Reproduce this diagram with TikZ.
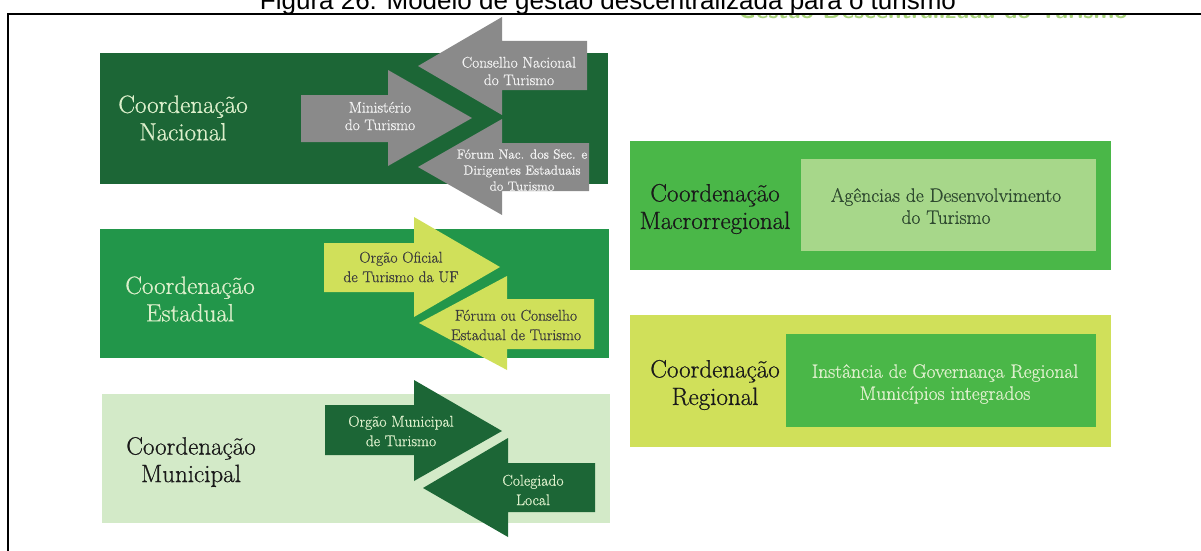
\documentclass[tikz,border=0pt]{standalone}
\usepackage{fontspec}
\newfontfamily\titlefont{Liberation Sans}
\newfontfamily\lmheavy{Latin Modern Roman}[FakeBold=0.7]
\begin{document}
\begin{tikzpicture}[x=1pt,y=-1pt,
  big/.style={align=center,inner sep=0pt,font=\lmheavy\fontsize{25}{27.5}\selectfont},
  small/.style={align=center,inner sep=0pt,font=\lmheavy\fontsize{15.4}{17.5}\selectfont},
  mid/.style={align=center,inner sep=0pt,font=\lmheavy\fontsize{15.6}{19.5}\selectfont},
  boxtext/.style={align=center,inner sep=0pt,font=\lmheavy\fontsize{19.5}{22}\selectfont}]
\definecolor{darkg}{HTML}{1C6636}
\definecolor{estg}{HTML}{22964A}
\definecolor{munibg}{HTML}{D3EAC8}
\definecolor{grayar}{HTML}{8A8A8A}
\definecolor{yellowg}{HTML}{D0E05A}
\definecolor{brightg}{HTML}{4AB748}
\definecolor{lightg}{HTML}{A7D78A}
\definecolor{paletxt}{HTML}{DCEFCB}
\definecolor{darktxt}{HTML}{1A1A1A}
\definecolor{innertxt}{HTML}{2F4A30}
\definecolor{fadeg}{HTML}{A9D37C}
\useasboundingbox (0,0) rectangle (1201,551);
% faded cut-off heading: only its lowest strip shows
\node[anchor=base,inner sep=0pt,text=fadeg,font=\sffamily\bfseries\fontsize{24}{28}\selectfont] (fadehead) at (933,19) {Gestão Descentralizada do Turismo};
\fill[white] (700,-5) rectangle (1201,15.3);
\fill[white] (700,19.6) rectangle (1201,30);
% title (cut off at the top)
\node[anchor=base,inner sep=0pt,font=\titlefont\fontsize{26}{30}\selectfont] (title) at (608,10) {Figura 26: Modelo de gestão descentralizada para o turismo};
% frame
\draw[line width=2pt] (8,551) -- (8,14) -- (1201,14);
% ---------- Nacional ----------
\fill[darkg] (100,53) rectangle (608,184);
\fill[grayar] (301,95) -- (388,95) -- (388,70) -- (472,118) -- (388,166) -- (388,142) -- (301,142) -- cycle;
\fill[grayar] (418,66) -- (502,17) -- (502,41) -- (587,41) -- (587,90) -- (502,90) -- (502,115) -- cycle;
\fill[grayar] (418,167) -- (502,119) -- (502,143) -- (589,143) -- (589,191) -- (502,191) -- (502,215) -- cycle;
\node[big,text=paletxt] (nac) at (183,118) {Coordenação\\Nacional};
\node[small,text=white!95!black] (min) at (380,116) {Ministério\\do Turismo};
\node[small,text=white!95!black] (cnt) at (519,71) {Conselho Nacional\\do Turismo};
\node[small,text=white!95!black,font=\lmheavy\fontsize{13.3}{16}\selectfont] (forum) at (522,170) {Fórum Nac. dos Sec. e\\Dirigentes Estaduais\\do Turismo};
% ---------- Estadual ----------
\fill[estg] (100,229) rectangle (609,358);
\fill[yellowg] (324,243) -- (414,243) -- (414,217) -- (500,267) -- (414,317) -- (414,292) -- (324,292) -- cycle;
\fill[yellowg] (419,323) -- (507,276) -- (507,299) -- (594,299) -- (594,349) -- (507,349) -- (507,370) -- cycle;
\node[big,text=paletxt] (est) at (190,299) {Coordenação\\Estadual};
\node[mid,text=darktxt!85] (oouf) at (401,267) {Orgão Oficial\\de Turismo da UF};
\node[mid,text=darktxt!85] (fcet) at (516,325) {Fórum ou Conselho\\Estadual de Turismo};
% ---------- Municipal ----------
\fill[munibg] (102,394) rectangle (610,523);
\fill[darkg] (325,405) -- (414,405) -- (414,380) -- (502,431) -- (414,481) -- (414,455) -- (325,455) -- cycle;
\fill[darkg] (423,488) -- (508,438) -- (508,463) -- (595,463) -- (595,512) -- (508,512) -- (508,537) -- cycle;
\node[big,text=darktxt] (mun) at (191,462) {Coordenação\\Municipal};
\node[mid,text=paletxt] (omt) at (401,431) {Orgão Municipal\\de Turismo};
\node[mid,text=paletxt] (col) at (533,490) {Colegiado\\Local};
% ---------- Macrorregional ----------
\fill[brightg] (630,141) rectangle (1111,270);
\fill[lightg] (801,159) rectangle (1096,251);
\node[big,text=darktxt] (macro) at (715,209) {Coordenação\\Macrorregional};
\node[boxtext,text=innertxt] (agen) at (946,206) {Agências de Desenvolvimento\\do Turismo};
% ---------- Regional ----------
\fill[yellowg] (630,315) rectangle (1111,447);
\fill[brightg] (786,334) rectangle (1096,427);
\node[big,text=darktxt] (reg) at (715,385) {Coordenação\\Regional};
\node[boxtext,text=paletxt] (igr) at (945,384) {Instância de Governança Regional\\Municípios integrados};
\end{tikzpicture}
\end{document}
